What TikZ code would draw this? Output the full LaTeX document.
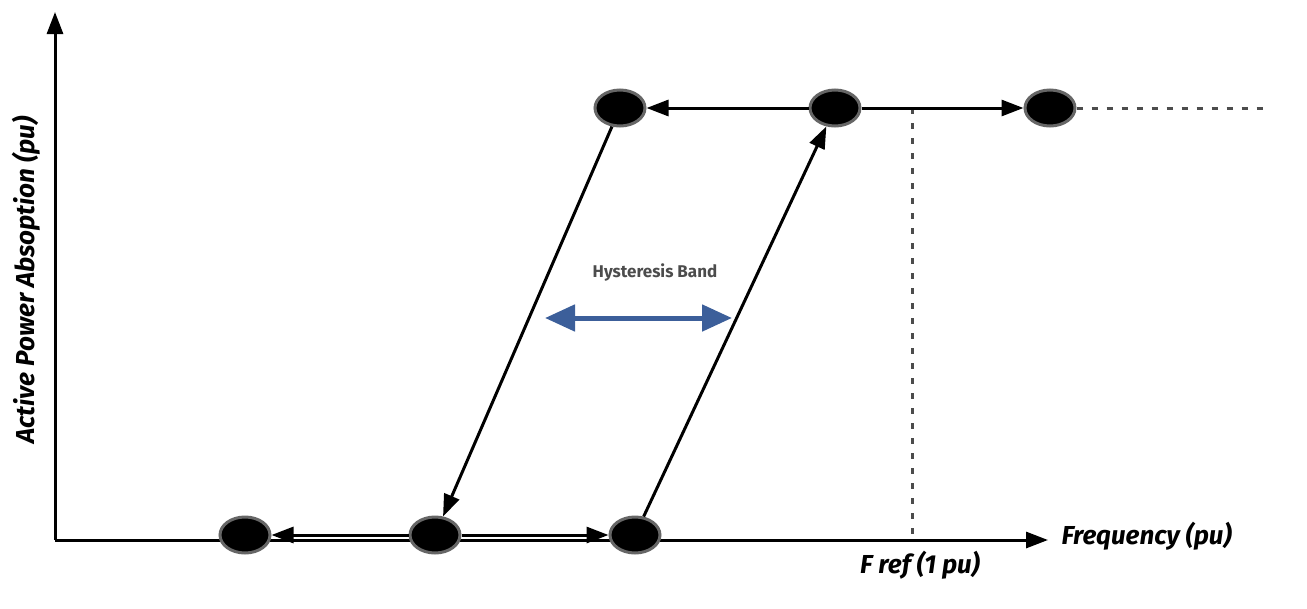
\documentclass[tikz,border=0pt]{standalone}
\usepackage{fontspec}
\setmainfont{Fira Sans}
\usetikzlibrary{arrows.meta,shapes.geometric}
\begin{document}
\begin{tikzpicture}[x=1pt,y=-1pt,
state/.style={%
ellipse,
fill=black,
draw=black!60,
line width=3pt,
minimum width=50pt,
minimum height=36pt,
inner sep=0pt
},
flow/.style={%
-{Triangle[length=22pt,width=16pt]},
line width=3pt
},
guide/.style={%
dash pattern=on 6pt off 9pt,
line width=3pt,
black!70
},
axlabel/.style={%
font=\bfseries\itshape\fontsize{26}{30}\selectfont
},
]
\useasboundingbox (0,0) rectangle (1307,608);
%% Axes
\draw[flow] (55,540) -- (55,12);
\draw[flow] (55,540) -- (1048,540);
\node[axlabel,anchor=west] (xl) at (1058,536) {Frequency (pu)};
\node[axlabel,rotate=90] (yl) at (26,280) {Active Power Absoption (pu)};
\node[axlabel] (fref) at (920,565) {F ref (1 pu)};
%% States
\node[state] (t1) at (620,108) {};
\node[state] (t2) at (835,108) {};
\node[state] (t3) at (1050,108) {};
\node[state] (b1) at (245,535) {};
\node[state] (b2) at (435,535) {};
\node[state] (b3) at (635,535) {};
\coordinate (end) at (1270,108);
\coordinate (ftop) at (912,108);
\coordinate (fbot) at (912,540);
%% Guides
\draw[guide] (t3) -- (end);
\draw[guide] (ftop) -- (fbot);
%% Transitions
\draw[flow] (t2) -- (t1);
\draw[flow] (t2) -- (t3);
\draw[flow] (t1) -- (b2);
\draw[flow] (b3) -- (t2);
\draw[flow] (b2) -- (b1);
\draw[flow] (b2) -- (b3);
%% Band
\coordinate (hl) at (545,318);
\coordinate (hr) at (732,318);
\draw[{Triangle[length=30pt,width=26pt]}-{Triangle[length=30pt,width=26pt]},line width=5pt,cyan!40!blue!75!black] (hl) -- (hr);
\node[font=\bfseries\fontsize{17}{20}\selectfont,black!70] (band) at (655,272) {Hysteresis Band};
\end{tikzpicture}
\end{document}
